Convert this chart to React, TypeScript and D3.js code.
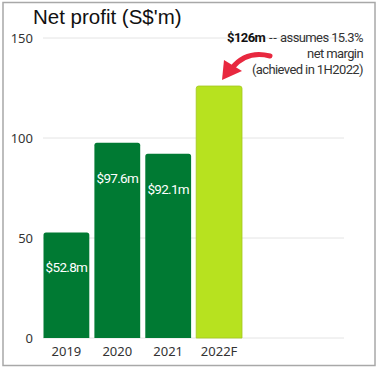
import React from 'react'
import * as d3 from 'd3'

const years = ['2019', '2020', '2021', '2022F']
const profits = [52.8, 97.6, 92.1, 126]
const barLabels = ['$52.8m', '$97.6m', '$92.1m', '']
const yTicks = [0, 50, 100, 150]
const noteLines = ['net margin', '(achieved in 1H2022)']

const W = 380
const H = 370
const FONT = '"Noto Sans", "Open Sans", sans-serif'
const NARROW = 'Roboto, "Noto Sans", sans-serif'

// rect with only the top corners rounded
const topRounded = (x: number, y: number, w: number, h: number, r: number) => {
  const p = d3.path()
  p.moveTo(x, y + h)
  p.lineTo(x, y + r)
  p.arcTo(x, y, x + r, y, r)
  p.lineTo(x + w - r, y)
  p.arcTo(x + w, y, x + w, y + r, r)
  p.lineTo(x + w, y + h)
  p.closePath()
  return p.toString()
}

export default function App() {
  const x = d3.scaleBand<string>().domain(years).range([43.5, 242]).paddingInner(0.1).paddingOuter(0)
  const y = d3.scaleLinear().domain([0, 150]).range([338, 38])
  const gridLeft = 43
  const gridRight = 344

  return (
    <svg width={W} height={H} style={{ position: 'absolute', left: 0, top: 0, background: '#fff' }}>
      <rect x={3} y={2.5} width={372} height={363} fill="#fff" stroke="#a8a8a8" strokeWidth={1.5} />
      <text x={33} y={24} fontFamily='"Liberation Sans", Arial, sans-serif' fontSize={20.5} fill="#111">
        Net profit (S$'m)
      </text>

      {/* grid + y ticks */}
      {yTicks.map(t => (
        <g key={t}>
          <line x1={gridLeft} x2={gridRight} y1={y(t)} y2={y(t)} stroke="#e4e4e4" strokeWidth={1} />
          <text x={33} y={y(t) + 4.5} textAnchor="end" fontFamily={FONT} fontSize={13} fill="#333">
            {t}
          </text>
        </g>
      ))}

      {/* bars */}
      {years.map((yr, i) => {
        const bx = x(yr) as number
        const bw = x.bandwidth()
        const top = y(profits[i])
        const forecast = yr.endsWith('F')
        return (
          <g key={yr}>
            <path
              d={topRounded(bx, top, bw, y(0) - top, 2.5)}
              fill={forecast ? '#b7e21f' : '#007a33'}
              stroke={forecast ? '#a3c61f' : 'none'}
              strokeWidth={forecast ? 0.8 : 0}
            />
            {barLabels[i] && (
              <text x={bx + bw / 2} y={top + 40} textAnchor="middle" fontFamily={NARROW} fontSize={13.5}
                letterSpacing={-0.7} fill="#fff">
                {barLabels[i]}
              </text>
            )}
            <text x={bx + bw / 2} y={356} textAnchor="middle" fontFamily={FONT} fontSize={13} fill="#333">
              {yr}
            </text>
          </g>
        )
      })}

      {/* annotation */}
      <text x={363} y={42} textAnchor="end" fontFamily={NARROW} fontSize={13} letterSpacing={-0.6} fill="#333">
        <tspan fontWeight="bold" fill="#111">$126m</tspan>
        <tspan letterSpacing={0.6}> --</tspan>
        <tspan> assumes 15.3%</tspan>
      </text>
      {noteLines.map((l, i) => (
        <text key={l} x={363} y={58 + i * 16} textAnchor="end" fontFamily={NARROW} fontSize={13}
          letterSpacing={-0.6} fill="#333">
          {l}
        </text>
      ))}
      <path d="M270,56 C254,52 241,57 232,68" fill="none" stroke="#e8283f" strokeWidth={5} strokeLinecap="round" />
      <path d="M222,80 L224,60 L242,71 Z" fill="#e8283f" />
    </svg>
  )
}
